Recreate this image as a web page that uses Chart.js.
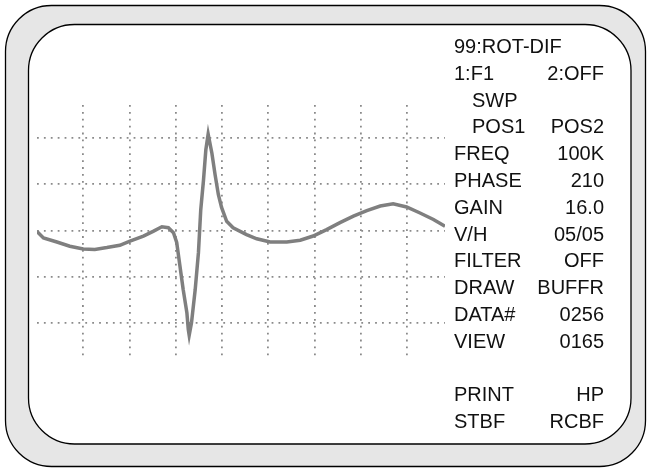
<!DOCTYPE html>
<html>
<head>
<meta charset="utf-8">
<script src="https://cdn.jsdelivr.net/npm/chart.js@4/dist/chart.umd.min.js"></script>
<style>
  html, body { margin: 0; padding: 0; background: #ffffff; }
  #wrap { position: relative; width: 647px; height: 468px; }
  canvas { display: block; }
</style>
</head>
<body>
<div id="wrap"><canvas id="scope" width="647" height="468"></canvas></div>
<script>
// Rotating-probe differential eddy-current signal (screen divisions)
const sweepX = [0.00, 0.14, 0.43, 0.71, 1.00, 1.25, 1.51, 1.79, 2.01, 2.30, 2.51, 2.70, 2.84, 2.95,
  3.02, 3.09, 3.16, 3.24, 3.27, 3.29, 3.34, 3.42, 3.49, 3.54, 3.60, 3.65, 3.70, 3.78, 3.85, 3.92,
  3.99, 4.10, 4.24, 4.53, 4.75, 5.04, 5.40, 5.69, 5.97, 6.26, 6.55, 6.84, 7.13, 7.42, 7.70, 7.99,
  8.28, 8.57, 8.82];
const signalY = [-0.02, -0.16, -0.25, -0.34, -0.40, -0.41, -0.37, -0.32, -0.23, -0.12, -0.02, 0.08, 0.06, -0.05,
  -0.26, -0.77, -1.28, -1.78, -2.14, -2.27, -2.00, -1.28, -0.48, 0.45, 1.10, 1.75, 2.09, 1.68, 1.21, 0.78,
  0.50, 0.20, 0.06, -0.09, -0.18, -0.25, -0.25, -0.21, -0.12, 0.02, 0.17, 0.31, 0.43, 0.53, 0.58, 0.51,
  0.38, 0.24, 0.09];

// Graticule divisions
const xDivisions = [1, 2, 3, 4, 5, 6, 7, 8];
const yDivisions = [-2, -1, 0, 1, 2];

// Instrument settings panel
const menuLabels = ['99:ROT-DIF', '1:F1', 'SWP', 'POS1', 'FREQ', 'PHASE', 'GAIN', 'V/H',
  'FILTER', 'DRAW', 'DATA#', 'VIEW', '', 'PRINT', 'STBF'];
const menuValues = ['', '2:OFF', '', 'POS2', '100K', '210', '16.0', '05/05',
  'OFF', 'BUFFR', '0256', '0165', '', 'HP', 'RCBF'];

const points = sweepX.map((x, i) => ({ x: x, y: signalY[i] }));

function roundRect(ctx, x0, y0, x1, y1, r) {
  ctx.beginPath();
  ctx.moveTo(x0 + r, y0);
  ctx.lineTo(x1 - r, y0);
  ctx.arcTo(x1, y0, x1, y0 + r, r);
  ctx.lineTo(x1, y1 - r);
  ctx.arcTo(x1, y1, x1 - r, y1, r);
  ctx.lineTo(x0 + r, y1);
  ctx.arcTo(x0, y1, x0, y1 - r, r);
  ctx.lineTo(x0, y0 + r);
  ctx.arcTo(x0, y0, x0 + r, y0, r);
  ctx.closePath();
}

// Bezel of the instrument screen
const bezel = {
  id: 'bezel',
  beforeDraw(chart) {
    const ctx = chart.ctx;
    ctx.save();
    ctx.fillStyle = '#ffffff';
    ctx.fillRect(0, 0, chart.width, chart.height);
    roundRect(ctx, 5.5, 5.5, 645.5, 466.5, 46);
    ctx.fillStyle = '#e6e6e6';
    ctx.fill();
    ctx.lineWidth = 1.3;
    ctx.strokeStyle = '#000000';
    ctx.stroke();
    roundRect(ctx, 28.5, 24.5, 631, 444, 46);
    ctx.fillStyle = '#ffffff';
    ctx.fill();
    ctx.stroke();
    ctx.restore();
  }
};

// Settings read-out to the right of the trace
const readout = {
  id: 'readout',
  afterDraw(chart) {
    const ctx = chart.ctx;
    const indented = [2, 3];
    ctx.save();
    ctx.font = '20px "Liberation Sans", Arial, sans-serif';
    ctx.fillStyle = '#111111';
    ctx.textBaseline = 'alphabetic';
    menuLabels.forEach((label, i) => {
      const y = 53 + i * 26.8;
      ctx.textAlign = 'left';
      ctx.fillText(label, indented.includes(i) ? 472 : 454, y);
      ctx.textAlign = 'right';
      ctx.fillText(menuValues[i], 604, y);
    });
    ctx.restore();
  }
};

const dotted = {
  color: '#8a8a8a',
  lineWidth: 1.8,
  drawTicks: false
};

new Chart(document.getElementById('scope'), {
  type: 'line',
  data: {
    datasets: [{
      data: points,
      borderColor: '#7f7f7f',
      borderWidth: 3.5,
      pointRadius: 0,
      tension: 0,
      fill: false
    }]
  },
  options: {
    responsive: false,
    animation: false,
    devicePixelRatio: 1,
    layout: { padding: { left: 37, top: 105, right: 202, bottom: 112 } },
    plugins: { legend: { display: false }, tooltip: { enabled: false } },
    scales: {
      x: {
        type: 'linear',
        min: 0,
        max: 8.82,
        afterBuildTicks: (axis) => { axis.ticks = xDivisions.map(v => ({ value: v })); },
        ticks: { display: false },
        grid: dotted,
        border: { display: false, dash: [1.8, 5.1] }
      },
      y: {
        type: 'linear',
        min: -2.72,
        max: 2.72,
        afterBuildTicks: (axis) => { axis.ticks = yDivisions.map(v => ({ value: v })); },
        ticks: { display: false },
        grid: dotted,
        border: { display: false, dash: [1.8, 5.1] }
      }
    }
  },
  plugins: [bezel, readout]
});
</script>
</body>
</html>
